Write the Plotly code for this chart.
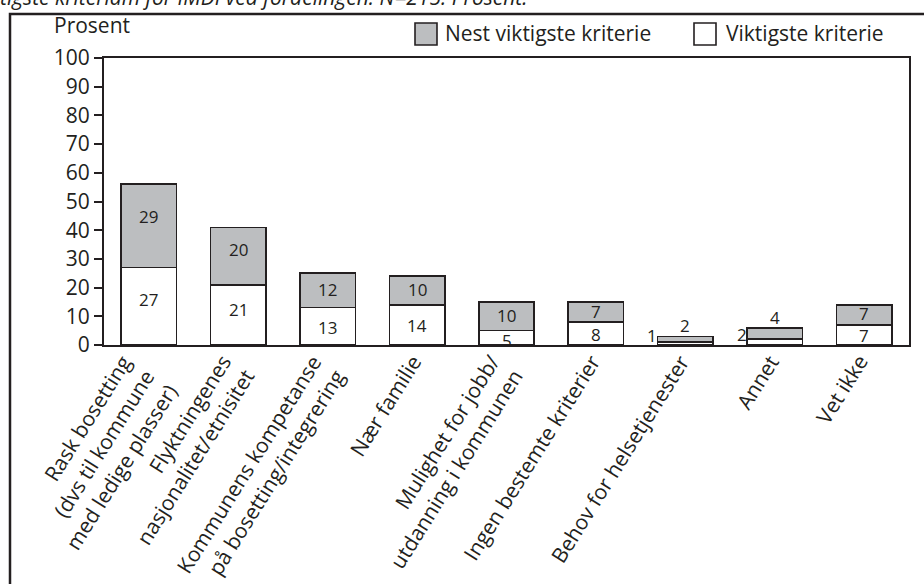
import math
import plotly.graph_objects as go

categories = [
    "Rask bosetting<br>(dvs til kommune<br>med ledige plasser)",
    "Flyktningenes<br>nasjonalitet/etnisitet",
    "Kommunens kompetanse<br>på bosetting/integrering",
    "Nær familie",
    "Mulighet for jobb/<br>utdanning i kommunen",
    "Ingen bestemte kriterier",
    "Behov for helsetjenester",
    "Annet",
    "Vet ikke",
]
viktigste = [27, 21, 13, 14, 5, 8, 1, 2, 7]
nest_viktigste = [29, 20, 12, 10, 10, 7, 2, 4, 7]
series_names = ["Viktigste kriterie", "Nest viktigste kriterie"]
y_ticks = list(range(0, 101, 10))

DARK = "#231f20"
GRAY = "#bcbec0"
FONT = "Open Sans"
FS = 21
LFS = 17
ANGLE = 58

# pixel layout helpers
W, H = 924, 584
ML, MR, MT, MB = 104, 15, 58, 239
PW, PH = W - ML - MR, H - MT - MB


def px_x(px):
    return (px - ML) / PW


def px_y(py):
    return (H - MB - py) / PH


hover_names = [c.replace("<br>", " ") for c in categories]
fig = go.Figure()
fig.add_trace(go.Bar(
    x=list(range(len(categories))), y=viktigste, name=series_names[0],
    marker=dict(color="white", line=dict(color=DARK, width=1.6)),
    width=0.62, showlegend=False, hovertext=hover_names, hoverinfo="text+y+name",
))
fig.add_trace(go.Bar(
    x=list(range(len(categories))), y=nest_viktigste, name=series_names[1],
    marker=dict(color=GRAY, line=dict(color=DARK, width=1.6)),
    width=0.62, showlegend=False, hovertext=hover_names, hoverinfo="text+y+name",
))


def label_pos(base, seg):
    frac = 0.6 if seg >= 15 else 0.5
    return base + frac * seg


annotations = []
for i, cat in enumerate(categories):
    v = viktigste[i]
    n = nest_viktigste[i]
    small = (v + n) < 8
    if small:
        annotations.append(dict(x=i, y=v / 2, xref="x", yref="y", text=str(v),
                                showarrow=False, xshift=-33, yshift=8,
                                font=dict(size=LFS, color=DARK, family=FONT)))
        annotations.append(dict(x=i, y=v + n, xref="x", yref="y", text=str(n),
                                showarrow=False, yanchor="bottom", yshift=-3,
                                font=dict(size=LFS, color=DARK, family=FONT)))
    else:
        annotations.append(dict(x=i, y=label_pos(0, v), xref="x", yref="y", text=str(v),
                                showarrow=False, yanchor="middle",
                                yshift=-3 if v < 7 else -1,
                                font=dict(size=LFS, color=DARK, family=FONT)))
        annotations.append(dict(x=i, y=label_pos(v, n), xref="x", yref="y", text=str(n),
                                showarrow=False, yanchor="middle", yshift=1,
                                font=dict(size=LFS, color=DARK, family=FONT)))

# rotated category labels (as annotations so multi-line blocks sit like the reference)
sin_t = math.sin(math.radians(ANGLE))
LH = 1.3 * FS
for i, cat in enumerate(categories):
    nl = cat.count("<br>") + 1
    h_out = nl * LH + 4
    xshift = -10.5 * (nl - 1) - 14 + h_out * sin_t
    annotations.append(dict(x=i, y=px_y(347), xref="x", yref="paper", text=cat,
                            showarrow=False, textangle=-ANGLE, align="right",
                            xanchor="right", yanchor="top", xshift=xshift,
                            font=dict(size=FS, color=DARK, family=FONT)))

# y-axis title
annotations.append(dict(x=px_x(52), y=px_y(25), xref="paper", yref="paper",
                        text="Prosent", showarrow=False, xanchor="left", yanchor="middle",
                        font=dict(size=FS, color=DARK, family=FONT)))
# caption at very top (cut off by the page edge, as in the reference)
annotations.append(dict(x=px_x(-2), y=px_y(-3), xref="paper", yref="paper",
                        text="<i>tigste kriteriam for IMDi ved fordelingen. N=215. Prosent.</i>",
                        showarrow=False, xanchor="left", yanchor="middle",
                        font=dict(size=FS, color=DARK, family=FONT)))

shapes = []
# outer frame
shapes.append(dict(type="rect", xref="paper", yref="paper",
                   x0=px_x(10), x1=px_x(960), y0=px_y(14), y1=px_y(640),
                   line=dict(color=DARK, width=2.5), fillcolor="rgba(0,0,0,0)"))

# manual legend (larger boxes as in the reference)
legend_items = [(series_names[1], GRAY, 415, 443), (series_names[0], "white", 694, 724)]
for name, col, bx, tx in legend_items:
    shapes.append(dict(type="rect", xref="paper", yref="paper",
                       x0=px_x(bx), x1=px_x(bx + 22), y0=px_y(23), y1=px_y(45),
                       line=dict(color=DARK, width=1.6), fillcolor=col))
    annotations.append(dict(x=px_x(tx), y=px_y(33), xref="paper", yref="paper",
                            text=name, showarrow=False, xanchor="left", yanchor="middle",
                            font=dict(size=FS, color=DARK, family=FONT)))

fig.update_layout(
    width=W, height=H,
    margin=dict(l=ML, r=MR, t=MT, b=MB, autoexpand=False),
    barmode="stack",
    plot_bgcolor="white", paper_bgcolor="white",
    font=dict(family=FONT, size=FS, color=DARK),
    annotations=annotations,
    shapes=shapes,
    showlegend=False,
)
fig.update_xaxes(
    range=[-0.5, len(categories) - 0.5], showticklabels=False,
    showgrid=False, ticks="", showline=True, linecolor=DARK,
    linewidth=2, mirror=True,
)
fig.update_yaxes(
    range=[0, 100], tickvals=y_ticks, ticks="outside", ticklen=8, tickwidth=1.5,
    tickcolor=DARK, showgrid=False, zeroline=False, showline=True, linecolor=DARK,
    linewidth=2, mirror=True, tickfont=dict(size=FS, family=FONT, color=DARK),
)

fig.write_html("out.html", config={"displayModeBar": False},
               post_script="document.body.style.margin='0px';")
